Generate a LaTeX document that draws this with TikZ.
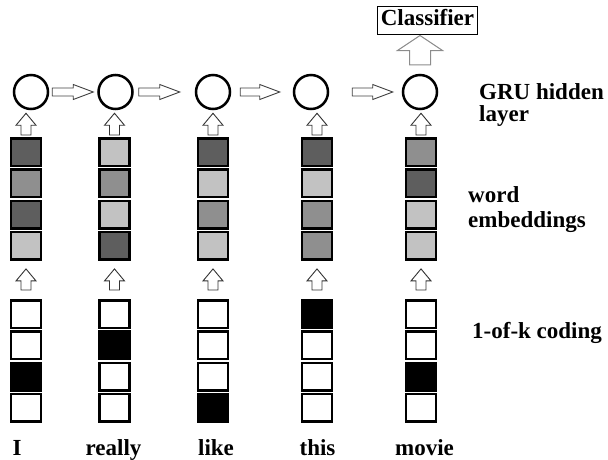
\documentclass[tikz,border=0pt]{standalone}
\usepackage{fontspec}
\setmainfont{Liberation Serif}
\usetikzlibrary{calc}

\definecolor{dk}{gray}{0.37}
\definecolor{md}{gray}{0.56}
\definecolor{lt}{gray}{0.76}

\begin{document}
\begin{tikzpicture}[x=1pt, y=-1pt,
    sq/.style = {draw, line width=2.5pt, minimum width=30pt, minimum height=27.5pt, inner sep=0pt},
    hid/.style = {circle, draw, line width=2.5pt, minimum size=34pt, inner sep=0pt},
    lbl/.style = {font=\bfseries\fontsize{23}{24}\selectfont, inner sep=0pt},
    rarr/.style 2 args = {to path={let \p1=($(\tikztostart)+(#1pt,0pt)$), \p2=($(\tikztotarget)-(#2pt,0pt)$) in
        (\x1,\y1+4pt) -- (\x2-20pt,\y1+4pt) -- (\x2-20pt,\y1+7.5pt) -- (\x2,\y1)
        -- (\x2-20pt,\y1-7.5pt) -- (\x2-20pt,\y1-4pt) -- (\x1,\y1-4pt) -- cycle}},
    uarr/.style n args = {5}{to path={let \p1=($(\tikztostart)+(0pt,#1pt)$), \p2=($(\tikztotarget)-(0pt,#2pt)$) in
        (\x1-#3pt,\y1) -- (\x1-#3pt,\y2-#5pt) -- (\x1-#4pt,\y2-#5pt) -- (\x1,\y2)
        -- (\x1+#4pt,\y2-#5pt) -- (\x1+#3pt,\y2-#5pt) -- (\x1+#3pt,\y1) -- cycle}}]

    \useasboundingbox (0,0) rectangle (608,459);

    % columns: word, embedding shades, hot position
    \foreach \i/\cx/\hx/\wx/\word/\ea/\eb/\ec/\ed/\hot in {
        1/26/31/17/I/dk/md/dk/lt/3,
        2/114.5/115.5/113.5/really/lt/md/lt/dk/2,
        3/213/213/216/like/dk/lt/md/lt/4,
        4/317/311/317.5/this/dk/lt/md/md/1,
        5/421/420/424.5/movie/md/dk/lt/lt/3} {
        \foreach \k/\f in {1/\ea,2/\eb,3/\ec,4/\ed} {
            \node[sq, fill=\f] (emb-\i-\k) at (\cx,{152+31.3*(\k-1)}) {};
            \ifnum\k=\hot \def\hc{black}\else\def\hc{white}\fi
            \node[sq, fill=\hc] (hot-\i-\k) at (\cx,{314+31.3*(\k-1)}) {};
        }
        \node[hid] (h\i) at (\hx,92) {};
        \node[lbl, anchor=base] (w\i) at (\wx,455) {\word};
        \draw[line width=0.9pt, black!80] (hot-\i-1.north) to[uarr={9}{8}{5}{10}{12}] (emb-\i-4.south);
        \draw[line width=0.9pt, black!80] (emb-\i-1.north) to[uarr={2}{3}{5}{10}{12}] (h\i.south);
    }

    % recurrent arrows
    \draw[line width=0.9pt, black!75] (h1.east) to[rarr={3}{4}] (h2.west);
    \draw[line width=0.9pt, black!75] (h2.east) to[rarr={5}{15}] (h3.west);
    \draw[line width=0.9pt, black!75] (h3.east) to[rarr={9}{13}] (h4.west);
    \draw[line width=0.9pt, black!75] (h4.east) to[rarr={23}{9}] (h5.west);

    % classifier
    \node[lbl, draw, line width=1pt, inner xsep=3pt, inner ysep=3.5pt, text height=16pt, text depth=5pt] (cls) at (427.5,20) {Classifier};
    \draw[line width=1pt, black!45] (h5.north) to[uarr={9}{1}{10.5}{22.5}{15}] (cls.south);

    % layer labels
    \node[lbl, anchor=base west] (lgru) at (479,99) {GRU hidden};
    \node[lbl, anchor=base west] (lgru2) at (479,121) {layer};
    \node[lbl, anchor=base west] (lemb) at (468,202) {word};
    \node[lbl, anchor=base west] (lemb2) at (468,227) {embeddings};
    \node[lbl, anchor=base west] (lhot) at (472,338) {1-of-k coding};

\end{tikzpicture}
\end{document}
